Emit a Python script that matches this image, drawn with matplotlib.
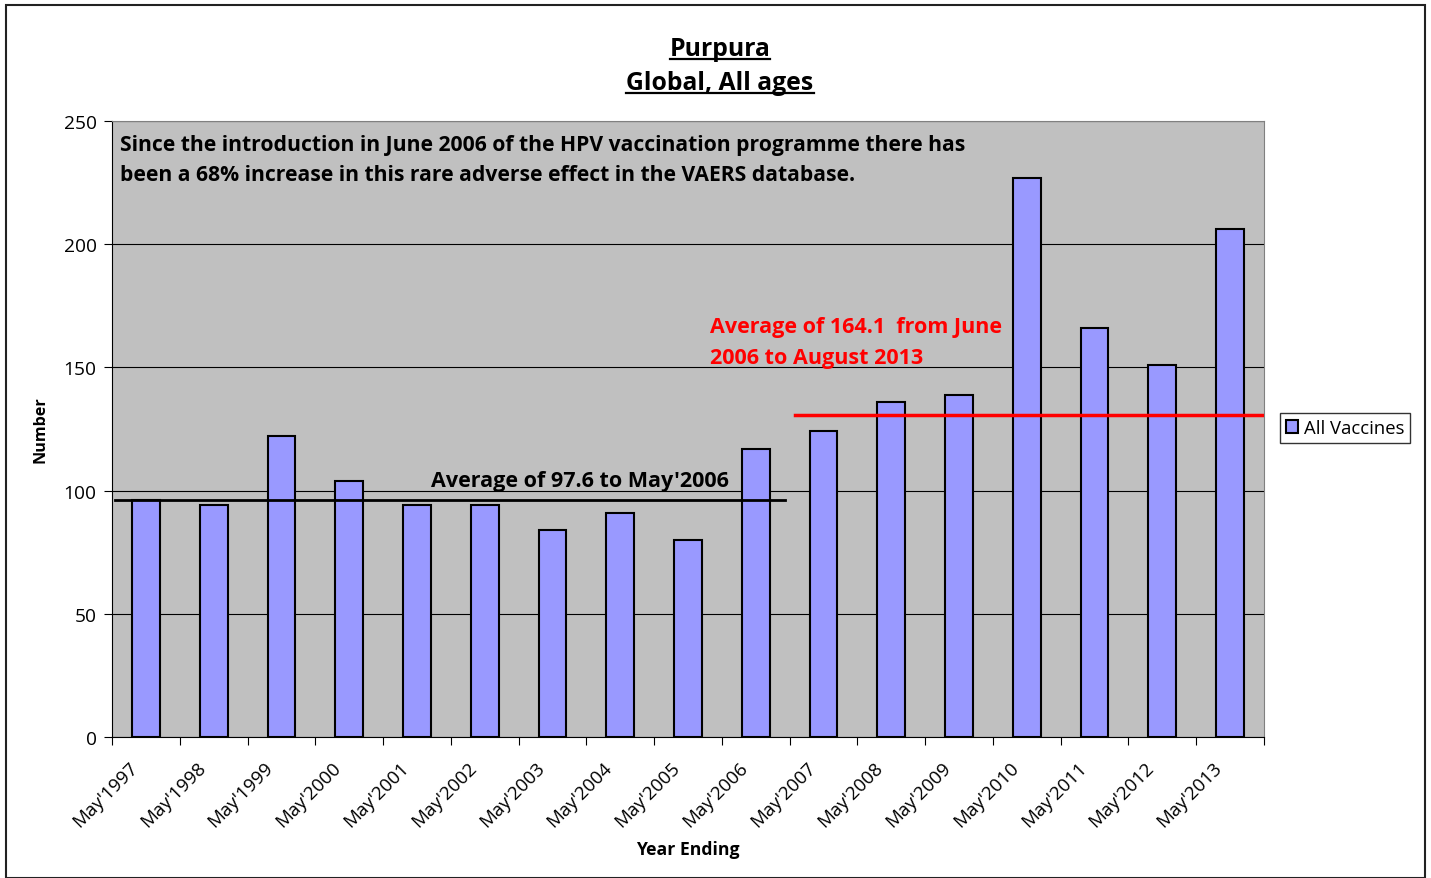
import matplotlib
matplotlib.use("Agg")
import matplotlib.pyplot as plt
import matplotlib.transforms as mtransforms
from matplotlib.patches import Rectangle
from matplotlib.lines import Line2D

categories = ["May'1997", "May'1998", "May'1999", "May'2000", "May'2001", "May'2002",
              "May'2003", "May'2004", "May'2005", "May'2006", "May'2007", "May'2008",
              "May'2009", "May'2010", "May'2011", "May'2012", "May'2013"]
values = [96, 94, 122, 104, 94, 94, 84, 91, 80, 117, 124, 136, 139, 227, 166, 151, 206]
series_name = "All Vaccines"
avg_before = 96.2
avg_after = 130.5

plt.rcParams['font.family'] = ['Open Sans', 'DejaVu Sans']

W, H = 1431, 879
fig = plt.figure(figsize=(W/100, H/100), dpi=100)
fig.patch.set_facecolor('white')
fig.add_artist(Rectangle((6/W, 0), (1425-6)/W, 1-6/H, transform=fig.transFigure,
                         fill=False, edgecolor='#222222', linewidth=1.5))

ax = fig.add_axes([112/W, 1-738/H, (1264-112)/W, (738-122)/H])
ax.set_facecolor('#c0c0c0')
x = list(range(len(categories)))
ax.set_axisbelow(True)
ax.yaxis.grid(True, color='black', linewidth=0.8)
bars = ax.bar(x, values, width=0.41, color='#9999ff', edgecolor='black', linewidth=1.5,
              label=series_name, zorder=2)
ax.set_xlim(-0.5, len(categories) - 0.5)
ax.set_ylim(0, 250)
ax.set_yticks([0, 50, 100, 150, 200, 250])
ax.tick_params(axis='y', labelsize=13.8, length=6, direction='out', pad=5)
ax.set_xticks([i - 0.5 for i in range(len(categories) + 1)])
ax.set_xticklabels([])
ax.set_xticks(x, minor=True)
ax.set_xticklabels(categories, minor=True, rotation=45, ha='right', va='center',
                   rotation_mode='anchor', fontsize=13.5)
ax.tick_params(axis='x', which='major', length=6, direction='out')
ax.tick_params(axis='x', which='minor', length=0, pad=20)
off = mtransforms.ScaledTranslation(-11/100, 0, fig.dpi_scale_trans)
for lbl in ax.get_xticklabels(minor=True):
    lbl.set_transform(lbl.get_transform() + off)
for s in ['top', 'right']:
    ax.spines[s].set_color('#808080')
for s in ['left', 'bottom']:
    ax.spines[s].set_color('black')

ax.plot([-0.45, 9.43], [avg_before, avg_before], color='black', linewidth=2, zorder=3)
ax.plot([9.58, 16.47], [avg_after, avg_after], color='#ff0000', linewidth=2.5, zorder=3)

ax.text(6.41, 104.2, "Average of 97.6 to May'2006", ha='center', va='center',
        fontsize=15.5, fontweight='bold', color='black')
ax.text(8.33, 166.4, "Average of 164.1  from June", ha='left', va='center',
        fontsize=15.5, fontweight='bold', color='#ff0000')
ax.text(8.33, 154.2, "2006 to August 2013", ha='left', va='center',
        fontsize=15.5, fontweight='bold', color='#ff0000')
ax.text(-0.38, 240.4, "Since the introduction in June 2006 of the HPV vaccination programme there has",
        ha='left', va='center', fontsize=15.2, fontweight='bold')
ax.text(-0.38, 228.2, "been a 68% increase in this rare adverse effect in the VAERS database.",
        ha='left', va='center', fontsize=15.2, fontweight='bold')

ax.set_ylabel("Number", fontsize=11.6, fontweight='bold')
ax.yaxis.set_label_coords(-0.0547, 0.5)
ax.set_xlabel("Year Ending", fontsize=12.7, fontweight='bold')
ax.xaxis.set_label_coords(0.5, -(841-738)/(738-122))

leg = ax.legend(loc='center left', bbox_to_anchor=(1280/W, 1-429/H), bbox_transform=fig.transFigure,
                fontsize=13.3, frameon=True, fancybox=False, edgecolor='black',
                handlelength=0.7, handleheight=0.7, handletextpad=0.3, borderpad=0.3,
                borderaxespad=0)
leg.get_frame().set_linewidth(1.0)

t1 = fig.text((720)/W, 1-50/H, "Purpura", ha='center', va='center', fontsize=17.8, fontweight='bold')
t2 = fig.text((720)/W, 1-84/H, "Global, All ages", ha='center', va='center', fontsize=17.8, fontweight='bold')

fig.canvas.draw()
r = fig.canvas.get_renderer()
for t in (t1, t2):
    bb = t.get_window_extent(r)
    yb = bb.y0 + 3
    fig.add_artist(Line2D([bb.x0/W, bb.x1/W], [yb/H, yb/H], transform=fig.transFigure,
                          color='black', linewidth=1.6))

fig.savefig("out.png", dpi=100)
